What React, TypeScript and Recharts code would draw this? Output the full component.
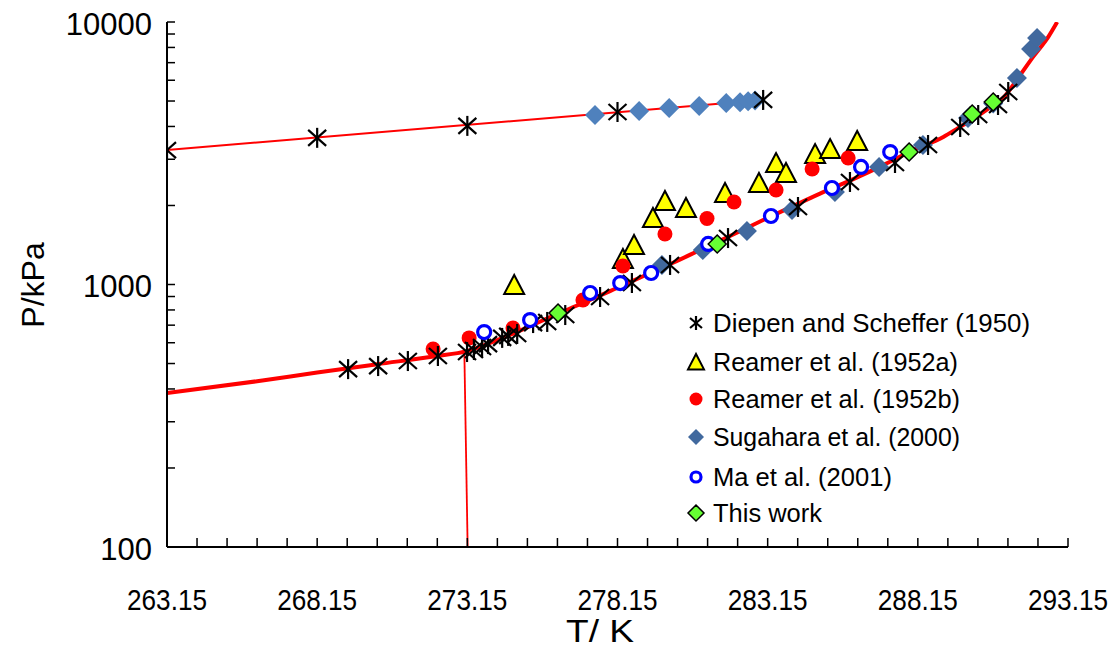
import React from 'react';
import { ComposedChart, Line, Scatter, XAxis, YAxis } from 'recharts';

const NARROW = '"Liberation Sans Narrow", "Liberation Sans", Arial, sans-serif';
const WIDE = '"Liberation Sans", Arial, sans-serif';

// axis ticks
const xMajor = [263.15, 268.15, 273.15, 278.15, 283.15, 288.15, 293.15];
const xTicks = Array.from({ length: 31 }, (_, i) => +(263.15 + i).toFixed(2));
const yMajor = [100, 1000, 10000];
const yTicks = [100, 200, 300, 400, 500, 600, 700, 800, 900, 1000, 2000, 3000, 4000, 5000, 6000, 7000, 8000, 9000, 10000];

// Diepen and Scheffer (1950)
const diepenT = [263.15, 268.15, 273.15, 278.15, 283.0, 269.18, 270.18, 271.17, 272.17, 273.14, 273.37, 273.64, 273.84, 274.31, 274.51, 274.81, 275.34, 275.81, 276.41, 277.57, 278.63, 279.9, 281.83, 284.16, 285.89, 287.39, 288.49, 289.56, 290.16, 290.82, 291.16];
const diepenP = [3250, 3620, 4020, 4540, 5050, 476, 489, 511, 534, 553, 563, 578, 593, 626, 637, 648, 713, 720, 765, 896, 1013, 1187, 1503, 1974, 2458, 2903, 3400, 3981, 4422, 4829, 5412];

// Reamer et al. (1952a)
const reamerAT = [274.71, 278.33, 278.7, 279.33, 279.73, 280.43, 281.73, 282.86, 283.43, 283.76, 284.73, 285.23, 286.13];
const reamerAP = [987, 1240, 1402, 1776, 2062, 1939, 2212, 2415, 2877, 2636, 3113, 3253, 3491];

// Reamer et al. (1952b)
const reamerBT = [272.01, 273.21, 274.67, 277.0, 278.33, 279.73, 281.13, 282.03, 283.43, 284.63, 285.83];
const reamerBP = [568, 626, 683, 873, 1176, 1557, 1784, 2062, 2291, 2754, 3033];

// Sugahara et al. (2000)
const sugaUpT = [277.4, 278.87, 279.87, 280.87, 281.77, 282.23, 282.5, 282.73];
const sugaUpP = [4420, 4580, 4700, 4790, 4910, 4950, 4990, 5020];
const sugaLowT = [279.63, 280.99, 282.46, 283.96, 285.39, 286.86, 288.32, 289.82, 290.66, 291.45, 291.92, 292.12];
const sugaLowP = [1187, 1353, 1599, 1922, 2251, 2804, 3400, 4308, 4892, 6118, 7891, 8690];

// Ma et al. (2001)
const maT = [273.71, 275.24, 277.24, 278.24, 279.27, 281.17, 283.26, 285.29, 286.26, 287.23];
const maP = [659, 732, 928, 1013, 1106, 1427, 1824, 2331, 2804, 3196];

// This work
const thisT = [276.17, 281.47, 287.86, 289.96, 290.66];
const thisP = [779, 1427, 3196, 4462, 4956];

// model curves
const upperT = [263.15, 282.9];
const upperP = [3254, 5030];
const lowerT = [263.15, 266.15, 268.15, 270.15, 272.15, 273.1, 274, 275, 276, 277, 278, 279, 280, 281, 282, 283, 284, 285, 286, 287, 288, 289, 289.5, 290, 290.5, 291, 291.5, 292, 292.5, 292.79];
const lowerP = [386, 428, 462, 497, 534, 556, 605, 675, 760, 850, 955, 1075, 1210, 1370, 1550, 1760, 1990, 2250, 2520, 2850, 3250, 3650, 3950, 4280, 4680, 5150, 6150, 7400, 8800, 10000];
const iceT = [273.05, 273.16];
const iceP = [556, 100];

const zip = (t: number[], p: number[]) => t.map((T, i) => ({ T, P: p[i] }));

const Asterisk = ({ cx, cy, s = 9 }: any) => (
  <g stroke="#000" strokeWidth={2.2}>
    <line x1={cx} y1={cy - s - 1} x2={cx} y2={cy + s + 1} />
    <line x1={cx - s} y1={cy - s + 1} x2={cx + s} y2={cy + s - 1} />
    <line x1={cx - s} y1={cy + s - 1} x2={cx + s} y2={cy - s + 1} />
  </g>
);
const Triangle = ({ cx, cy, s = 10 }: any) => (
  <polygon points={`${cx},${cy - s - 1} ${cx - s},${cy + s * 0.8} ${cx + s},${cy + s * 0.8}`} fill="#FFFF00" stroke="#000" strokeWidth={2} strokeLinejoin="miter" />
);
const RedDot = ({ cx, cy, r = 7.5 }: any) => <circle cx={cx} cy={cy} r={r} fill="#FF0000" />;
const Diamond = ({ cx, cy, s = 10, fill = '#41699E', stroke = 'none' }: any) => (
  <polygon points={`${cx},${cy - s} ${cx + s},${cy} ${cx},${cy + s} ${cx - s},${cy}`} fill={fill} stroke={stroke} strokeWidth={1.5} />
);
const Ring = ({ cx, cy, r = 6.5 }: any) => <circle cx={cx} cy={cy} r={r} fill="#fff" stroke="#0000FF" strokeWidth={3.2} />;

const XTick = (props: any) => {
  const { x, y, payload } = props;
  const major = xMajor.some((v) => Math.abs(v - payload.value) < 0.01);
  return (
    <g>
      <line x1={x} x2={x} y1={y} y2={y - 9} stroke="#000" strokeWidth={1.5} />
      {major && (
        <text x={x} y={y + 52} dy="0.35em" textAnchor="middle" fontSize={30} fontFamily={NARROW} fill="#000" textLength={80} lengthAdjust="spacingAndGlyphs">
          {payload.value.toFixed(2)}
        </text>
      )}
    </g>
  );
};

const YTick = (props: any) => {
  const { x, y, payload } = props;
  const major = yMajor.includes(payload.value);
  return (
    <g>
      <line x1={x} x2={x + 8} y1={y} y2={y} stroke="#000" strokeWidth={1.5} />
      {major && (
        <text x={x - 15} y={y + 2} dy="0.35em" textAnchor="end" fontSize={31} fontFamily={WIDE} fill="#000">
          {payload.value}
        </text>
      )}
    </g>
  );
};

const legendItems = [
  { label: 'Diepen and Scheffer (1950)', w: 317, icon: (cx: number, cy: number) => <Asterisk cx={cx} cy={cy} s={6} /> },
  { label: 'Reamer et al. (1952a)', w: 245, icon: (cx: number, cy: number) => <Triangle cx={cx} cy={cy + 1} s={8} /> },
  { label: 'Reamer et al. (1952b)', w: 247, icon: (cx: number, cy: number) => <RedDot cx={cx} cy={cy} r={6.5} /> },
  { label: 'Sugahara et al. (2000)', w: 247, icon: (cx: number, cy: number) => <Diamond cx={cx} cy={cy} s={8} /> },
  { label: 'Ma et al. (2001)', w: 179, icon: (cx: number, cy: number) => <Ring cx={cx} cy={cy} r={5} /> },
  { label: 'This work', w: 109, icon: (cx: number, cy: number) => <Diamond cx={cx} cy={cy} s={8} fill="#66FF33" stroke="#000" /> },
];
const legendRows = [323, 362, 399, 437, 477, 513];

export default function App() {
  return (
    <div style={{ position: 'absolute', left: 0, top: 0, width: 1119, height: 656, background: '#fff' }}>
      <ComposedChart width={1119} height={656} margin={{ top: 22, right: 51, left: 0, bottom: 0 }}>
        <XAxis
          type="number"
          dataKey="T"
          domain={[263.15, 293.15]}
          ticks={xTicks}
          interval={0}
          height={109}
          tickSize={0}
          tickMargin={0}
          tickLine={false}
          tick={<XTick />}
          axisLine={{ stroke: '#000', strokeWidth: 2 }}
          allowDataOverflow
        />
        <XAxis xAxisId="top" orientation="top" type="number" domain={[263.15, 293.15]} height={0} tick={false} tickLine={false} axisLine={{ stroke: '#000', strokeWidth: 2 }} />
        <YAxis
          type="number"
          dataKey="P"
          scale="log"
          domain={[100, 10000]}
          ticks={yTicks}
          interval={0}
          width={167}
          tickSize={0}
          tickMargin={0}
          tickLine={false}
          tick={<YTick />}
          axisLine={{ stroke: '#000', strokeWidth: 2 }}
          allowDataOverflow
        />
        <YAxis yAxisId="right" orientation="right" type="number" scale="log" domain={[100, 10000]} width={0} tick={false} tickLine={false} axisLine={{ stroke: '#000', strokeWidth: 2 }} />

        <Line data={zip(upperT, upperP)} dataKey="P" type="linear" stroke="#FF0000" strokeWidth={2} dot={false} activeDot={false} isAnimationActive={false} />
        <Line data={zip(lowerT, lowerP)} dataKey="P" type="monotone" stroke="#FF0000" strokeWidth={4} dot={false} activeDot={false} isAnimationActive={false} />
        <Line data={zip(iceT, iceP)} dataKey="P" type="linear" stroke="#FF0000" strokeWidth={1.8} dot={false} activeDot={false} isAnimationActive={false} />

        <Scatter data={zip(reamerAT, reamerAP)} shape={(p: any) => <Triangle cx={p.cx} cy={p.cy} />} isAnimationActive={false} />
        <Scatter data={zip(reamerBT, reamerBP)} shape={(p: any) => <RedDot cx={p.cx} cy={p.cy} />} isAnimationActive={false} />
        <Scatter data={zip(sugaUpT, sugaUpP)} shape={(p: any) => <Diamond cx={p.cx} cy={p.cy} fill="#4F81BD" />} isAnimationActive={false} />
        <Scatter data={zip(sugaLowT, sugaLowP)} shape={(p: any) => <Diamond cx={p.cx} cy={p.cy} />} isAnimationActive={false} />
        <Scatter data={zip(diepenT, diepenP)} shape={(p: any) => <Asterisk cx={p.cx} cy={p.cy} />} isAnimationActive={false} />
        <Scatter data={zip(maT, maP)} shape={(p: any) => <Ring cx={p.cx} cy={p.cy} />} isAnimationActive={false} />
        <Scatter data={zip(thisT, thisP)} shape={(p: any) => <Diamond cx={p.cx} cy={p.cy} s={9} fill="#66FF33" stroke="#000" />} isAnimationActive={false} />
      </ComposedChart>

      <svg width={1119} height={656} style={{ position: 'absolute', left: 0, top: 0, pointerEvents: 'none' }}>
        <text x={600} y={631} dy="0.35em" textAnchor="middle" fontSize={32} fontFamily={NARROW} fill="#000" textLength={68} lengthAdjust="spacingAndGlyphs">T/ K</text>
        <text x={33} y={285} dy="0.35em" textAnchor="middle" fontSize={32} fontFamily={WIDE} fill="#000" transform="rotate(-90 33 285)">P/kPa</text>
        {legendItems.map((it, i) => (
          <g key={it.label}>
            {it.icon(696, legendRows[i])}
            <text x={713} y={legendRows[i]} dy="0.35em" fontSize={25} fontFamily={WIDE} fill="#000" textLength={it.w} lengthAdjust="spacingAndGlyphs">
              {it.label}
            </text>
          </g>
        ))}
      </svg>
    </div>
  );
}
